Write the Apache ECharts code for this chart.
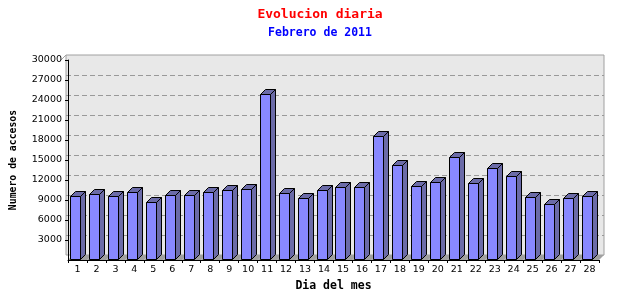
<!DOCTYPE html>
<html>
<head>
<meta charset="utf-8">
<script src="https://cdn.jsdelivr.net/npm/echarts@6/dist/echarts.min.js"></script>
<style>html,body{margin:0;padding:0;background:#fff}#c{width:640px;height:300px}</style>
</head>
<body>
<div id="c"></div>
<script>
var days = ['1','2','3','4','5','6','7','8','9','10','11','12','13','14','15','16','17','18','19','20','21','22','23','24','25','26','27','28'];
var accesos = [9550,9850,9550,10150,8650,9700,9700,10150,10450,10600,24850,10000,9250,10450,10900,10900,18550,14200,11050,11650,15400,11500,13750,12550,9400,8350,9250,9550];
var yMax = 30000, yStep = 3000;
var DEPTH = 5;

var chart = echarts.init(document.getElementById('c'), null, {renderer:'canvas'});
var data = days.map(function(d,i){ return [i, accesos[i]]; });

function floorItem(params, api){
  var c = api.coord([api.value(0), 0]);
  var band = api.size([1,0])[0];
  var x0 = c[0]-band/2, x1 = c[0]+band/2, y = c[1];
  return {type:'polygon', shape:{points:[[x0,y],[x1,y],[x1+DEPTH,y-DEPTH],[x0+DEPTH,y-DEPTH]]},
    style:{fill:'#a0a0a0', stroke:null}};
}
function barItem(params, api){
  var top = api.coord([api.value(0), api.value(1)]);
  var base = api.coord([api.value(0), 0]);
  var w = 10;
  var l = Math.round(top[0] - (w+DEPTH)/2) + 0.5;
  var r = l + w;
  var t = Math.round(top[1]) + 0.5;
  var b = Math.round(base[1]) - 0.5;
  var st = {stroke:'#000', lineWidth:1};
  return {type:'group', children:[
    {type:'polygon', shape:{points:[[r,t],[r+DEPTH,t-DEPTH],[r+DEPTH,b-DEPTH],[r,b]]}, style:Object.assign({fill:'#6b6ba8'}, st)},
    {type:'polygon', shape:{points:[[l,t],[l+DEPTH,t-DEPTH],[r+DEPTH,t-DEPTH],[r,t]]}, style:Object.assign({fill:'#6b6ba8'}, st)},
    {type:'rect', shape:{x:l, y:t, width:w, height:b-t}, style:Object.assign({fill:'#8888ff'}, st)}
  ]};
}

chart.setOption({
  animation:false,
  backgroundColor:'#fff',
  title:[
    {text:'Evolucion diaria', left:'center', top:3, textStyle:{color:'#ff0000', fontFamily:'DejaVu Sans Mono', fontWeight:'bold', fontSize:13}},
    {text:'Febrero de 2011', left:'center', top:22, textStyle:{color:'#0000ff', fontFamily:'DejaVu Sans Mono', fontWeight:'bold', fontSize:11.5}}
  ],
  grid:[
    {left:61, right:41, top:60, bottom:40, show:false, containLabel:false},
    {left:66, right:36, top:55, bottom:45, show:true, backgroundColor:'#e8e8e8', borderColor:'#a0a0a0', borderWidth:1, z:0}
  ],
  xAxis:[
    {type:'category', gridIndex:0, data:days, boundaryGap:true,
     axisLine:{lineStyle:{color:'#000', width:1}},
     axisTick:{show:true, length:3, inside:false, lineStyle:{color:'#000'}},
     axisLabel:{color:'#000', fontFamily:'DejaVu Sans', fontSize:9.5, margin:5, interval:0},
     name:'Dia del mes', nameLocation:'middle', nameGap:15,
     nameTextStyle:{color:'#000', fontFamily:'DejaVu Sans Mono', fontWeight:'bold', fontSize:11.5},
     z:5},
    {type:'category', gridIndex:1, data:days, show:false}
  ],
  yAxis:[
    {type:'value', gridIndex:0, min:0, max:yMax, interval:yStep,
     axisLine:{show:true, lineStyle:{color:'#000', width:1}},
     axisTick:{show:true, length:3, inside:false, lineStyle:{color:'#000'}},
     axisLabel:{color:'#000', fontFamily:'DejaVu Sans', fontSize:9.5, margin:6, showMinLabel:false,
       formatter:function(v){ return String(v); }},
     splitLine:{show:false},
     name:'Numero de accesos', nameLocation:'middle', nameGap:50, nameRotate:90,
     nameTextStyle:{color:'#000', fontFamily:'DejaVu Sans Mono', fontWeight:'bold', fontSize:9.8},
     z:5},
    {type:'value', gridIndex:1, min:0, max:yMax, interval:yStep,
     axisLine:{show:false}, axisTick:{show:false}, axisLabel:{show:false},
     splitLine:{show:true, showMinLine:false, showMaxLine:false, lineStyle:{color:'#999', type:[5,3], width:1}}}
  ],
  graphic:[
    {type:'line', shape:{x1:61, y1:60, x2:66, y2:55}, style:{stroke:'#a0a0a0', lineWidth:1}, z:1}
  ],
  series:[
    {type:'custom', xAxisIndex:0, yAxisIndex:0, data:data, renderItem:floorItem, z:1, silent:true},
    {type:'custom', xAxisIndex:0, yAxisIndex:0, data:data, renderItem:barItem, z:2}
  ]
});
</script>
</body>
</html>
